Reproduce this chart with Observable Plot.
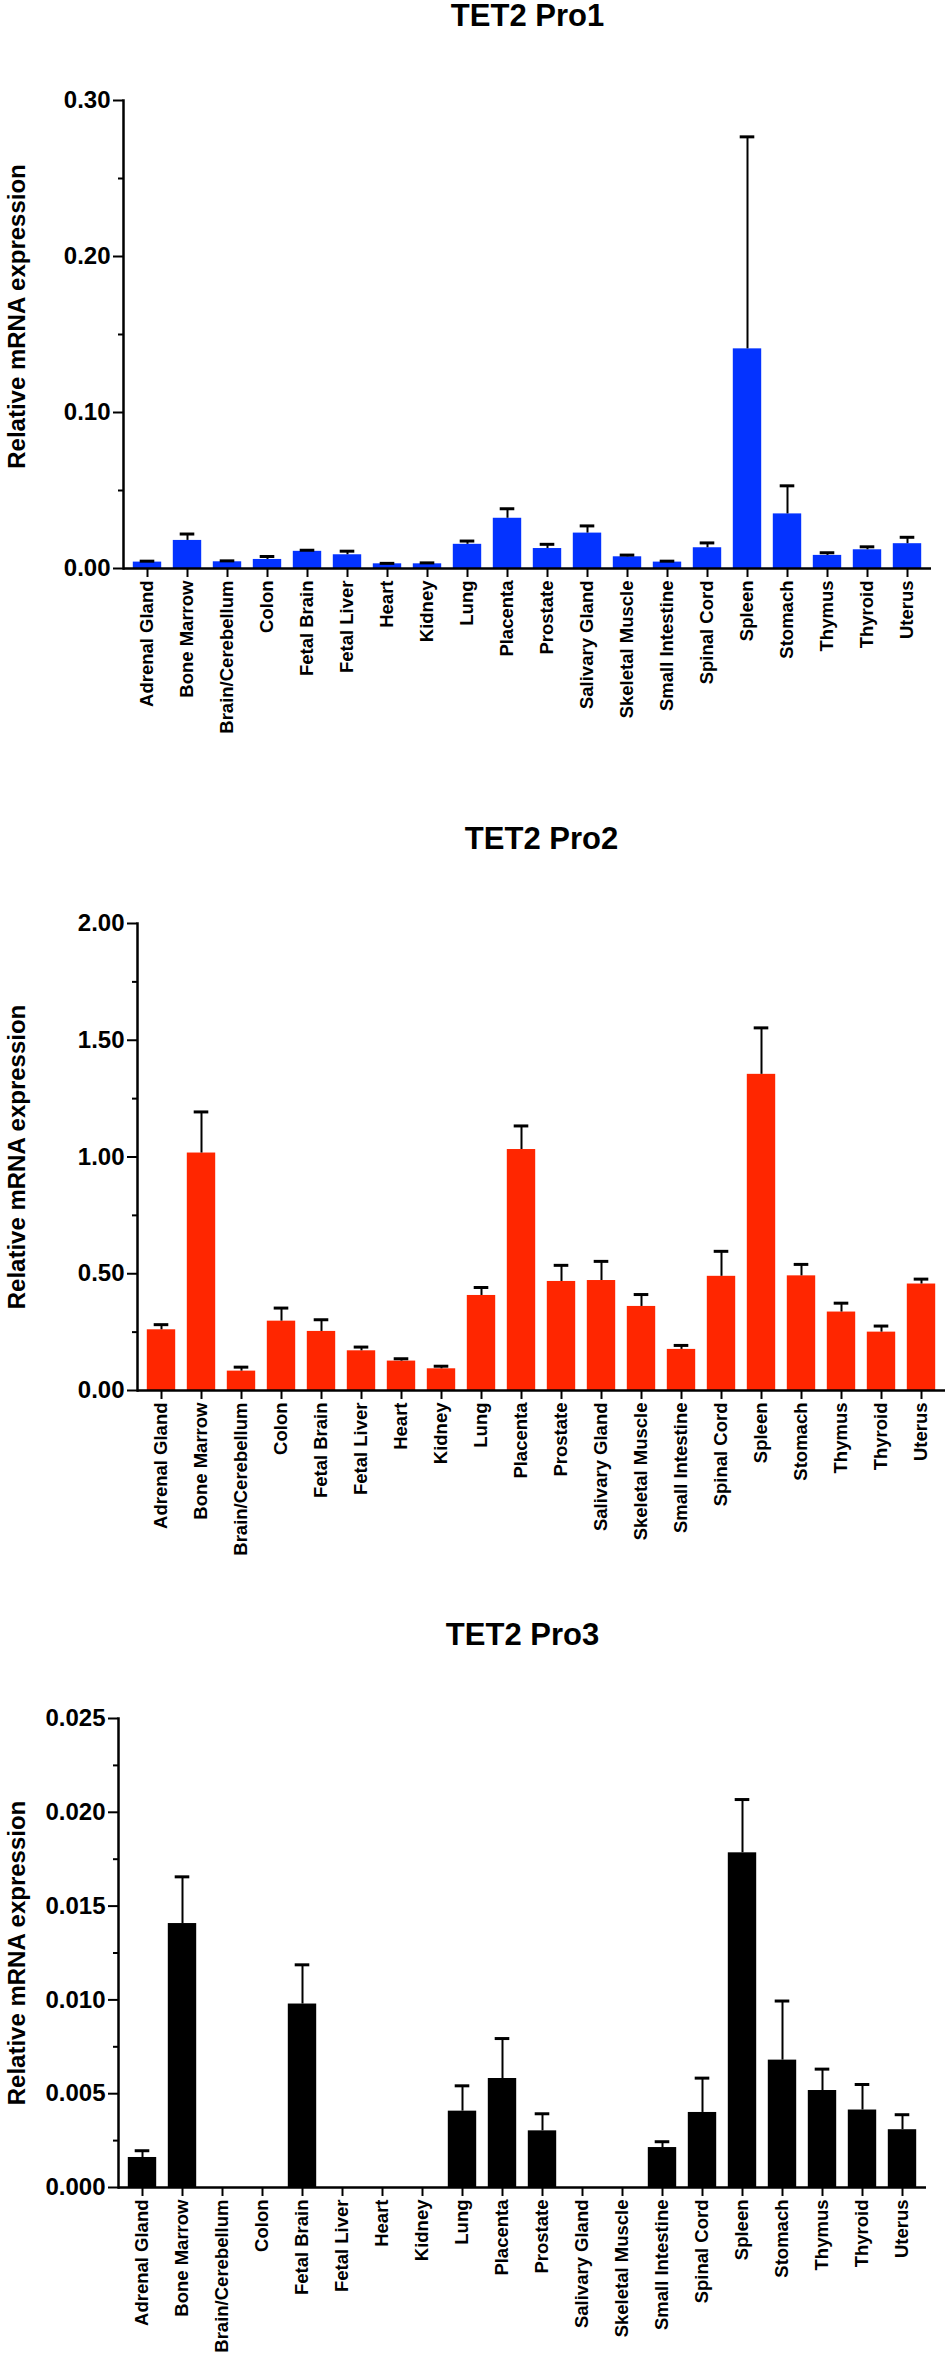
<!DOCTYPE html>
<html>
<head>
<meta charset="utf-8">
<script src="https://cdn.jsdelivr.net/npm/d3@7"></script>
<script src="https://cdn.jsdelivr.net/npm/@observablehq/plot@0.6"></script>
<style>
  html, body { margin: 0; padding: 0; background: #fff; }
  #charts svg { display: block; }
</style>
</head>
<body>
<div id="charts"></div>
<script>
const tissues = ["Adrenal Gland","Bone Marrow","Brain/Cerebellum","Colon","Fetal Brain","Fetal Liver","Heart","Kidney","Lung","Placenta","Prostate","Salivary Gland","Skeletal Muscle","Small Intestine","Spinal Cord","Spleen","Stomach","Thymus","Thyroid","Uterus"];

const pro1Mean = [0.0041,0.0180,0.0043,0.0058,0.0110,0.0088,0.0030,0.0030,0.0155,0.0322,0.0128,0.0227,0.0075,0.0041,0.0133,0.1408,0.0350,0.0084,0.0120,0.0159];
const pro1Sem  = [0.0006,0.0041,0.0006,0.0019,0.0007,0.0023,0.0003,0.0006,0.0021,0.0061,0.0027,0.0046,0.0011,0.0006,0.0031,0.1359,0.0180,0.0017,0.0019,0.0041];

const pro2Mean = [0.260,1.017,0.083,0.297,0.253,0.170,0.126,0.093,0.407,1.032,0.467,0.471,0.360,0.176,0.489,1.354,0.491,0.336,0.250,0.456];
const pro2Sem  = [0.022,0.176,0.017,0.056,0.050,0.016,0.010,0.011,0.034,0.101,0.069,0.082,0.051,0.017,0.107,0.199,0.049,0.038,0.026,0.021];

const pro3Mean = [0.00160,0.01407,null,null,0.00978,null,null,null,0.00407,0.00581,0.00302,null,null,0.00213,0.00400,0.01784,0.00679,0.00517,0.00413,0.00308];
const pro3Sem  = [0.00036,0.00249,null,null,0.00209,null,null,null,0.00135,0.00213,0.00091,null,null,0.00031,0.00183,0.00284,0.00315,0.00114,0.00136,0.00080];

const pro1Ticks = [0, 0.10, 0.20, 0.30];
const pro1Minor = [0.05, 0.15, 0.25];
const pro2Ticks = [0, 0.5, 1.0, 1.5, 2.0];
const pro2Minor = [0.25, 0.75, 1.25, 1.75];
const pro3Ticks = [0, 0.005, 0.010, 0.015, 0.020, 0.025];
const pro3Minor = [0.0025, 0.0075, 0.0125, 0.0175, 0.0225];

const FONT = "'Liberation Sans', Arial, Helvetica, sans-serif";

function makeChart(cfg) {
  const rows = tissues.map((t, i) => ({
    tissue: t,
    mean: cfg.mean[i],
    upper: cfg.mean[i] == null ? null : cfg.mean[i] + cfg.sem[i]
  }));
  const present = rows.filter(d => d.mean != null);
  return Plot.plot({
    width: 950,
    height: cfg.height,
    marginTop: cfg.marginTop,
    marginBottom: cfg.marginBottom,
    marginLeft: cfg.marginLeft,
    marginRight: cfg.marginRight,
    style: { fontFamily: FONT, background: "#fff", color: "#000", overflow: "visible" },
    x: { type: "band", domain: tissues, padding: 0 },
    y: { domain: [0, cfg.yMax] },
    marks: [
      Plot.barY(present, { x: "tissue", y: "mean", fill: cfg.color, insetLeft: 5.8, insetRight: 5.8 }),
      Plot.ruleX(present, { x: "tissue", y1: "mean", y2: "upper", stroke: "#000", strokeWidth: 2 }),
      Plot.tickY(present, { x: "tissue", y: "upper", stroke: "#000", strokeWidth: 3, insetLeft: 12.7, insetRight: 12.7 }),
      Plot.axisY(cfg.ticks, { tickFormat: d => d.toFixed(cfg.digits), tickSize: 10, tickPadding: 3, fontSize: 24, fontWeight: "bold", strokeWidth: 2, label: null }),
      Plot.axisY(cfg.minor, { tickFormat: () => "", tickSize: 5, strokeWidth: 2, label: null }),
      Plot.axisX({ tickRotate: -90, tickSize: 9, tickPadding: 3, fontSize: 18.5, fontWeight: "bold", strokeWidth: 2, label: null }),
      Plot.ruleY([0], { stroke: "#000", strokeWidth: 2.5 }),
      Plot.frame({ anchor: "left", stroke: "#000", strokeWidth: 2.5 }),
      Plot.text([cfg.title], { frameAnchor: "top", textAnchor: "middle", dy: cfg.titleDy, fontSize: 31, fontWeight: "bold", lineAnchor: "middle", fill: "#000" }),
      Plot.text(["Relative mRNA expression"], { frameAnchor: "left", textAnchor: "middle", dx: 17 - cfg.marginLeft, dy: cfg.labelDy, rotate: -90, fontSize: 24, fontWeight: "bold", lineAnchor: "middle", fill: "#000" })
    ]
  });
}

const root = document.getElementById("charts");
root.append(makeChart({
  title: "TET2 Pro1", mean: pro1Mean, sem: pro1Sem, color: "#0433ff",
  yMax: 0.30, ticks: pro1Ticks, minor: pro1Minor, digits: 2,
  height: 780, marginTop: 100, marginBottom: 212, marginLeft: 123, marginRight: 19,
  titleDy: -84, labelDy: -18
}));
root.append(makeChart({
  title: "TET2 Pro2", mean: pro2Mean, sem: pro2Sem, color: "#ff2600",
  yMax: 2.0, ticks: pro2Ticks, minor: pro2Minor, digits: 2,
  height: 800, marginTop: 143, marginBottom: 190, marginLeft: 137, marginRight: 5,
  titleDy: -84, labelDy: 0
}));
root.append(makeChart({
  title: "TET2 Pro3", mean: pro3Mean, sem: pro3Sem, color: "#000000",
  yMax: 0.025, ticks: pro3Ticks, minor: pro3Minor, digits: 3,
  height: 776, marginTop: 138, marginBottom: 169, marginLeft: 118, marginRight: 24,
  titleDy: -83, labelDy: 0
}));
</script>
</body>
</html>
